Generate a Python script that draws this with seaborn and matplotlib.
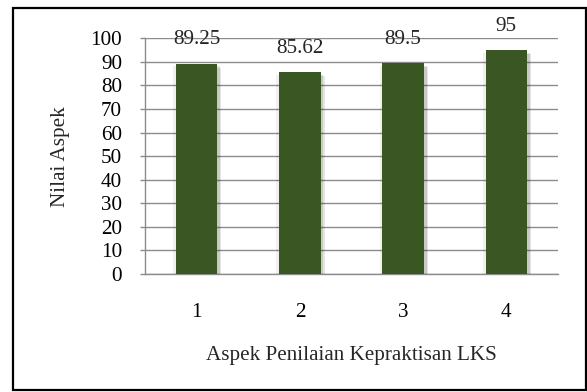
import matplotlib
matplotlib.use("Agg")
import matplotlib.pyplot as plt
import matplotlib.patheffects as pe
from matplotlib.patches import Rectangle
import seaborn as sns
import pandas as pd

categories = ["1", "2", "3", "4"]
values = [89.25, 85.62, 89.5, 95]
value_labels = ["89.25", "85.62", "89.5", "95"]
y_ticks = [0, 10, 20, 30, 40, 50, 60, 70, 80, 90, 100]

sns.set_style("white")
plt.rcParams['font.family'] = ['Liberation Serif', 'DejaVu Serif']

FS = 15.2
W, H = 587, 392
fig = plt.figure(figsize=(W / 100, H / 100), dpi=100)
ax = fig.add_axes([145 / W, 1 - 274 / H, (558 - 145) / W, (274 - 38.3) / H])

df = pd.DataFrame({"cat": categories, "val": values})
sns.barplot(data=df, x="cat", y="val", color="#3A5623", width=0.4,
            saturation=1, ax=ax, zorder=3)

shadow = [pe.SimplePatchShadow(offset=(3, -3), shadow_rgbFace="#000000", alpha=0.10),
          pe.SimplePatchShadow(offset=(2, -2), shadow_rgbFace="#000000", alpha=0.12),
          pe.SimplePatchShadow(offset=(-2, -2), shadow_rgbFace="#000000", alpha=0.06),
          pe.Normal()]
for p in ax.patches:
    p.set_edgecolor("none")
    p.set_path_effects(shadow)

ax.set_ylim(0, 100)
ax.set_xlim(-0.5, 3.5)
ax.set_yticks(y_ticks)
ax.yaxis.grid(True, color="#8C8C8C", linewidth=1.0, zorder=0)
ax.set_axisbelow(True)
for s in ["top", "right"]:
    ax.spines[s].set_visible(False)
for s in ["left", "bottom"]:
    ax.spines[s].set_color("#8C8C8C")
    ax.spines[s].set_linewidth(1.0)

ax.set_xticks([0, 1, 2, 3])
ax.set_xticklabels(categories)
ax.tick_params(axis="x", which="major", length=0, pad=21, labelsize=FS, colors="black")
ax.set_xticks([-0.5, 0.5, 1.5, 2.5, 3.5], minor=True)
ax.tick_params(axis="x", which="minor", length=3.6, width=1, color="#8C8C8C", direction="out")
ax.tick_params(axis="y", length=3.6, width=1, color="#8C8C8C", direction="out",
               pad=13, labelsize=FS, labelcolor="black")
ax.tick_params(axis="y", left=True)

for i, (v, lab) in enumerate(zip(values, value_labels)):
    ax.annotate(lab, (i, v), xytext=(0, 24), textcoords="offset pixels",
                ha="center", va="center", fontsize=FS, clip_on=False,
                annotation_clip=False)

ax.set_xlabel("Aspek Penilaian Kepraktisan LKS", fontsize=FS)
ax.set_ylabel("Nilai Aspek", fontsize=FS)
ax.xaxis.set_label_coords(0.5, (274 - 355) / (274 - 38.3))
ax.xaxis.label.set_va("center")
ax.yaxis.set_label_coords((60 - 145) / (558 - 145), 0.5)
ax.yaxis.label.set_va("center")

fig.patches.append(Rectangle((13 / W, 1 - 390 / H), 573 / W, 382 / H,
                             transform=fig.transFigure, fill=False,
                             edgecolor="black", linewidth=1.6))

fig.savefig("out.png", dpi=100)
